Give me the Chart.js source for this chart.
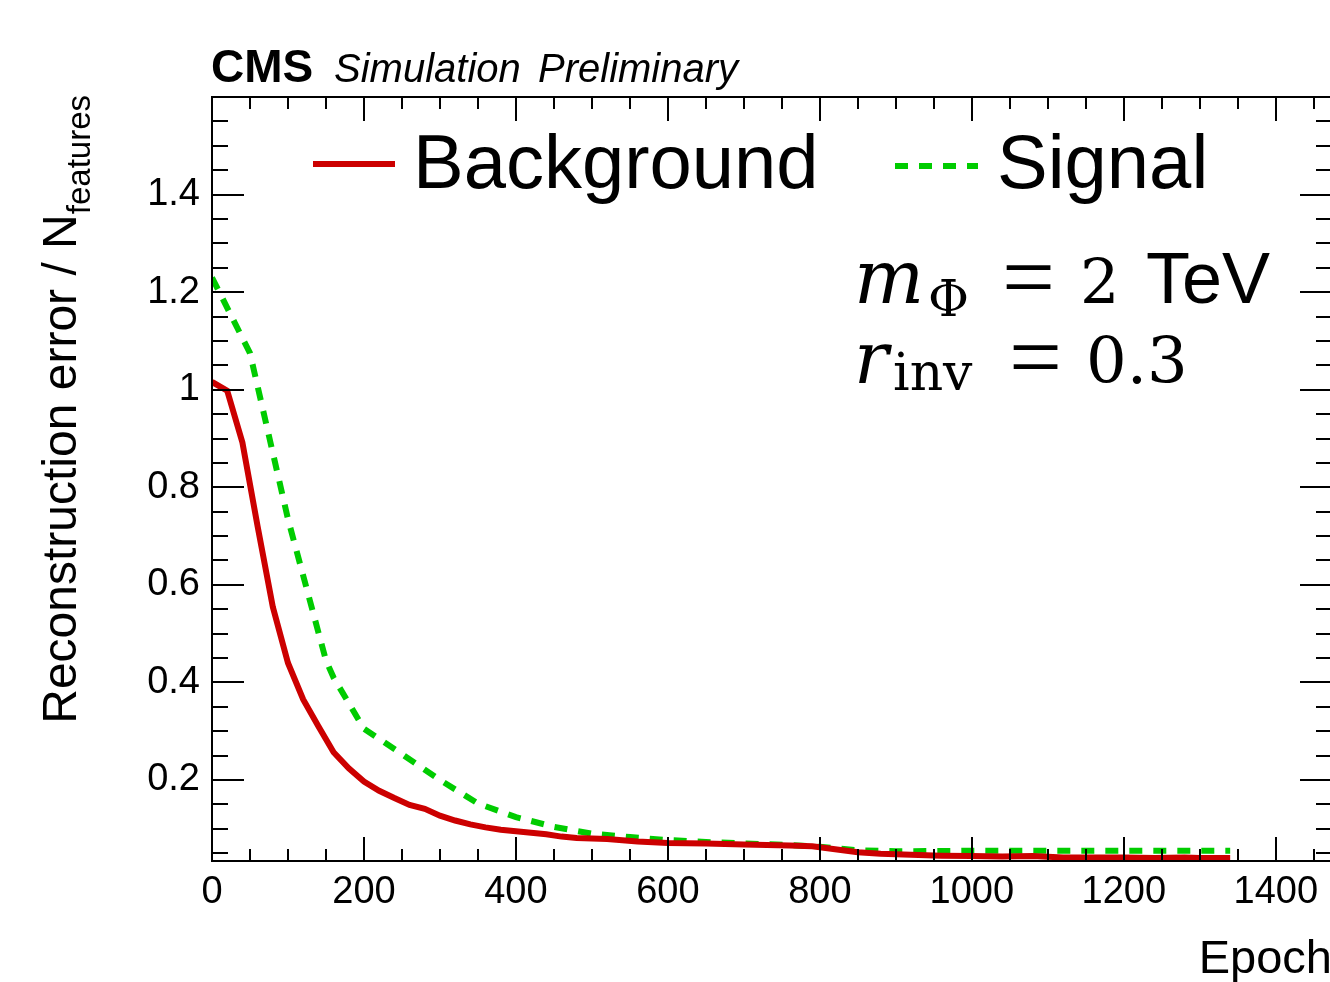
<!DOCTYPE html>
<html>
<head>
<meta charset="utf-8">
<script src="https://cdn.jsdelivr.net/npm/chart.js@4.4.1/dist/chart.umd.min.js"></script>
<style>
  html, body { margin: 0; padding: 0; background: #fff; overflow: hidden; }
  #wrap { width: 1340px; height: 982px; }
</style>
</head>
<body>
<div id="wrap"><canvas id="c" width="1340" height="982"></canvas></div>
<script>
// ---- data ----
const bkgEpochs = [0,20,40,60,80,100,120,140,160,180,200,220,240,260,280,300,320,340,360,380,400,420,440,460,480,520,560,600,650,700,760,790,820,850,880,920,960,1000,1040,1080,1120,1160,1200,1240,1280,1300,1340];
const bkgValues = [1.016,0.998,0.892,0.72,0.555,0.44,0.365,0.31,0.257,0.224,0.197,0.178,0.163,0.149,0.141,0.127,0.117,0.109,0.103,0.098,0.095,0.092,0.089,0.084,0.081,0.079,0.074,0.071,0.070,0.068,0.066,0.064,0.058,0.052,0.049,0.047,0.045,0.044,0.043,0.044,0.041,0.041,0.041,0.040,0.041,0.040,0.040];
const sigEpochs = [0,50,100,150,160,200,250,300,350,400,450,500,550,600,650,700,760,800,850,900,1000,1100,1200,1340];
const sigValues = [1.23,1.075,0.735,0.445,0.41,0.305,0.253,0.2,0.152,0.124,0.104,0.09,0.083,0.077,0.073,0.070,0.067,0.063,0.056,0.054,0.055,0.055,0.055,0.055];
const seriesLabels = ['Background', 'Signal'];
const xTickValues = [0,200,400,600,800,1000,1200,1400];
const xTickLabels = ['0','200','400','600','800','1000','1200','1400'];
const yTickValues = [0.2,0.4,0.6,0.8,1.0,1.2,1.4];
const yTickLabels = ['0.2','0.4','0.6','0.8','1','1.2','1.4'];
const xRange = [0, 1474];
const yRange = [0.034, 1.6];
const xMinorStep = 50;
const yMinorStep = 0.05;

const SANS = '"Liberation Sans", Arial, Helvetica, sans-serif';
const SERIF = '"DejaVu Serif", serif';
const SERIF2 = '"Liberation Serif", "Times New Roman", serif';

const rootPlugin = {
  id: 'rootStyle',
  afterDatasetsDraw(chart) {
    const ctx = chart.ctx;
    const a = chart.chartArea;
    const xs = chart.scales.x, ys = chart.scales.y;
    ctx.save();
    ctx.strokeStyle = '#000';
    ctx.lineWidth = 2;
    // ticks (inside frame, all four sides)
    ctx.beginPath();
    for (let v = xRange[0]; v <= xRange[1] + 1e-9; v += xMinorStep) {
      const px = Math.round(xs.getPixelForValue(v));
      const major = Math.abs(v / 200 - Math.round(v / 200)) < 1e-6;
      const len = major ? 24 : 12;
      ctx.moveTo(px, a.bottom); ctx.lineTo(px, a.bottom - len);
      ctx.moveTo(px, a.top); ctx.lineTo(px, a.top + len);
    }
    for (let k = 1; k * yMinorStep <= yRange[1] + 1e-9; k++) {
      const v = k * yMinorStep;
      if (v < yRange[0]) continue;
      const py = Math.round(ys.getPixelForValue(v));
      const major = k % 4 === 0;
      const len = major ? 32 : 16;
      ctx.moveTo(a.left, py); ctx.lineTo(a.left + len, py);
      ctx.moveTo(a.right, py); ctx.lineTo(a.right - len, py);
    }
    ctx.stroke();
    // frame
    ctx.strokeRect(a.left, a.top, a.right - a.left, a.bottom - a.top);

    ctx.fillStyle = '#000';
    ctx.textBaseline = 'alphabetic';
    ctx.textAlign = 'left';
    // CMS header
    ctx.font = 'bold 46px ' + SANS; ctx.fillText('CMS', 211, 82);
    ctx.font = 'italic 40px ' + SANS; ctx.fillText('Simulation', 334, 82);
    ctx.fillText('Preliminary', 538, 82);

    // Legend
    const dsets = chart.data.datasets;
    const legendItems = [
      { x0: 313, x1: 395, tx: 413, y: 164 },
      { x0: 895, x1: 978, tx: 997, y: 166 }
    ];
    dsets.forEach((d, i) => {
      const it = legendItems[i];
      ctx.save();
      ctx.strokeStyle = d.borderColor;
      ctx.lineWidth = d.borderWidth;
      ctx.setLineDash(d.borderDash || []);
      ctx.beginPath();
      ctx.moveTo(it.x0, it.y); ctx.lineTo(it.x1, it.y);
      ctx.stroke();
      ctx.restore();
      ctx.font = '76px ' + SANS;
      ctx.fillText(d.label, it.tx, 188);
    });

    // Annotation (m_Phi = 2 TeV, r_inv = 0.3)
    ctx.font = 'italic 74px ' + SERIF; ctx.fillText('m', 854, 303);
    ctx.font = '50px ' + SERIF; ctx.fillText('\u03A6', 928, 316);
    ctx.font = '94px ' + SERIF2; ctx.fillText('=', 1002, 308);
    ctx.font = '62px ' + SERIF; ctx.fillText('2', 1080, 303);
    ctx.font = '72px ' + SANS; ctx.fillText('TeV', 1146, 303);

    ctx.font = 'italic 72px ' + SERIF; ctx.fillText('r', 854, 383);
    ctx.font = '52px ' + SERIF; ctx.fillText('inv', 893, 390);
    ctx.font = '94px ' + SERIF2; ctx.fillText('=', 1009, 388);
    ctx.font = '64px ' + SERIF; ctx.fillText('0.3', 1086, 383);

    // X axis title
    ctx.textAlign = 'right';
    ctx.font = '47px ' + SANS;
    ctx.fillText('Epoch', a.right, 973);

    // Y axis title (rotated, right-aligned at top of frame)
    ctx.save();
    ctx.translate(76, a.top - 2);
    ctx.rotate(-Math.PI / 2);
    ctx.textAlign = 'left';
    ctx.font = '48px ' + SANS;
    const mainT = 'Reconstruction error / N';
    const subT = 'features';
    const wMain = ctx.measureText(mainT).width;
    ctx.font = '33px ' + SANS;
    const wSub = ctx.measureText(subT).width;
    const start = -(wMain + wSub);
    ctx.font = '48px ' + SANS;
    ctx.fillText(mainT, start, 0);
    ctx.font = '33px ' + SANS;
    ctx.fillText(subT, start + wMain, 14);
    ctx.restore();

    ctx.restore();
  }
};

const chart = new Chart(document.getElementById('c'), {
  type: 'line',
  data: {
    datasets: [
      {
        label: seriesLabels[0],
        data: bkgEpochs.map((x, i) => ({ x: x, y: bkgValues[i] })),
        borderColor: '#cc0000',
        borderWidth: 6,
        pointRadius: 0,
        tension: 0,
        fill: false
      },
      {
        label: seriesLabels[1],
        data: sigEpochs.map((x, i) => ({ x: x, y: sigValues[i] })),
        borderColor: '#00cc00',
        borderWidth: 6,
        borderDash: [13, 11],
        pointRadius: 0,
        tension: 0,
        fill: false
      }
    ]
  },
  options: {
    responsive: false,
    devicePixelRatio: 1,
    animation: false,
    events: [],
    layout: { padding: { top: 97, right: 8, left: 0, bottom: 0 } },
    plugins: { legend: { display: false }, tooltip: { enabled: false }, title: { display: false } },
    scales: {
      x: {
        type: 'linear',
        min: xRange[0], max: xRange[1],
        grid: { display: false, drawTicks: false },
        border: { display: false },
        afterFit(s) { s.height = 121; },
        afterBuildTicks(s) { s.ticks = xTickValues.map(v => ({ value: v })); },
        ticks: {
          autoSkip: false, maxRotation: 0,
          padding: 9,
          color: '#000',
          font: { family: SANS, size: 38 },
          callback: (v) => { const i = xTickValues.indexOf(v); return i >= 0 ? xTickLabels[i] : ''; }
        }
      },
      y: {
        type: 'linear',
        min: yRange[0], max: yRange[1],
        grid: { display: false, drawTicks: false },
        border: { display: false },
        afterFit(s) { s.width = 212; },
        afterBuildTicks(s) { s.ticks = yTickValues.map(v => ({ value: v })); },
        ticks: {
          autoSkip: false,
          padding: 12,
          color: '#000',
          font: { family: SANS, size: 38 },
          callback: (v) => { const i = yTickValues.findIndex(t => Math.abs(t - v) < 1e-9); return i >= 0 ? yTickLabels[i] : ''; }
        }
      }
    }
  },
  plugins: [rootPlugin]
});
</script>
</body>
</html>
